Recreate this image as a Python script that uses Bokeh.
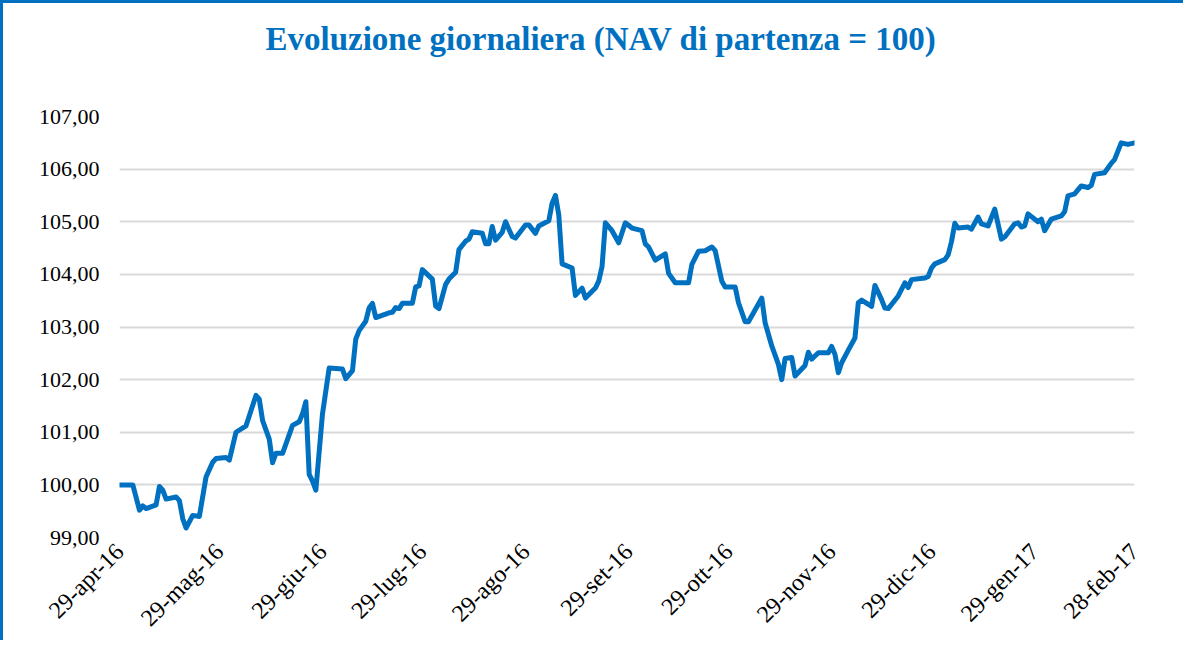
import pandas as pd
from bokeh.plotting import figure
from bokeh.models import Range1d, FixedTicker, CustomJSTickFormatter, Title
from bokeh.embed import file_html
from bokeh.resources import INLINE

title_text = "Evoluzione giornaliera (NAV di partenza = 100)"

dates = [
    "2016-04-29", "2016-05-03", "2016-05-05", "2016-05-06", "2016-05-07", "2016-05-10", "2016-05-11",
    "2016-05-12", "2016-05-13", "2016-05-16", "2016-05-17", "2016-05-18", "2016-05-19", "2016-05-21",
    "2016-05-23", "2016-05-25", "2016-05-27", "2016-05-28", "2016-05-31",
    "2016-06-01", "2016-06-03", "2016-06-06", "2016-06-09", "2016-06-10", "2016-06-11", "2016-06-13",
    "2016-06-14", "2016-06-15", "2016-06-17", "2016-06-20", "2016-06-22", "2016-06-23", "2016-06-24",
    "2016-06-25", "2016-06-26", "2016-06-27", "2016-06-29",
    "2016-07-01", "2016-07-05", "2016-07-06", "2016-07-08", "2016-07-09", "2016-07-10", "2016-07-12",
    "2016-07-13", "2016-07-14", "2016-07-15", "2016-07-19", "2016-07-20", "2016-07-21", "2016-07-22",
    "2016-07-23", "2016-07-26", "2016-07-27", "2016-07-28", "2016-07-29",
    "2016-08-01", "2016-08-02", "2016-08-03", "2016-08-05", "2016-08-06", "2016-08-08", "2016-08-09",
    "2016-08-11", "2016-08-12", "2016-08-13", "2016-08-16", "2016-08-17", "2016-08-18", "2016-08-19",
    "2016-08-20", "2016-08-22", "2016-08-23", "2016-08-25", "2016-08-26", "2016-08-29", "2016-08-30",
    "2016-09-01", "2016-09-02", "2016-09-05", "2016-09-06", "2016-09-07", "2016-09-08", "2016-09-09",
    "2016-09-12", "2016-09-13", "2016-09-15", "2016-09-16", "2016-09-19", "2016-09-20", "2016-09-21",
    "2016-09-22", "2016-09-24", "2016-09-26", "2016-09-28", "2016-09-30",
    "2016-10-03", "2016-10-04", "2016-10-05", "2016-10-07", "2016-10-10", "2016-10-11", "2016-10-13",
    "2016-10-17", "2016-10-18", "2016-10-20", "2016-10-22", "2016-10-24", "2016-10-25", "2016-10-27",
    "2016-10-28", "2016-10-31",
    "2016-11-01", "2016-11-03", "2016-11-04", "2016-11-08", "2016-11-09", "2016-11-11", "2016-11-13",
    "2016-11-14", "2016-11-15", "2016-11-17", "2016-11-18", "2016-11-21", "2016-11-22", "2016-11-23",
    "2016-11-25", "2016-11-28", "2016-11-29", "2016-11-30",
    "2016-12-01", "2016-12-02", "2016-12-04", "2016-12-06", "2016-12-07", "2016-12-08", "2016-12-11",
    "2016-12-12", "2016-12-14", "2016-12-15", "2016-12-16", "2016-12-19", "2016-12-21", "2016-12-22",
    "2016-12-23", "2016-12-27", "2016-12-28", "2016-12-29", "2016-12-30",
    "2017-01-02", "2017-01-03", "2017-01-04", "2017-01-05", "2017-01-06", "2017-01-09", "2017-01-10",
    "2017-01-12", "2017-01-13", "2017-01-15", "2017-01-17", "2017-01-19", "2017-01-20", "2017-01-23",
    "2017-01-24", "2017-01-25", "2017-01-26", "2017-01-27", "2017-01-30", "2017-01-31",
    "2017-02-01", "2017-02-03", "2017-02-06", "2017-02-07", "2017-02-08", "2017-02-10", "2017-02-12",
    "2017-02-14", "2017-02-15", "2017-02-16", "2017-02-19", "2017-02-21", "2017-02-22", "2017-02-24",
    "2017-02-26", "2017-02-28",
]

nav = [
    100.0, 100.0, 99.52, 99.6, 99.55, 99.62, 99.97, 99.9, 99.73, 99.77, 99.7, 99.36, 99.18, 99.42,
    99.4, 100.15, 100.43, 100.5, 100.52,
    100.47, 101.0, 101.12, 101.7, 101.63, 101.22, 100.87, 100.42, 100.6, 100.6, 101.13, 101.2, 101.35,
    101.58, 100.2, 100.07, 99.9, 101.35,
    102.22, 102.2, 102.02, 102.17, 102.77, 102.93, 103.11, 103.36, 103.45, 103.18, 103.27, 103.28,
    103.37, 103.35, 103.45, 103.45, 103.76, 103.78, 104.09,
    103.91, 103.4, 103.35, 103.81, 103.91, 104.04, 104.47, 104.63, 104.67, 104.81, 104.78, 104.58,
    104.58, 104.91, 104.65, 104.8, 105.0, 104.72, 104.69, 104.94, 104.94,
    104.78, 104.92, 105.02, 105.35, 105.5, 105.13, 104.2, 104.12, 103.6, 103.74, 103.55, 103.74,
    103.87, 104.15, 104.98, 104.83, 104.6, 104.98, 104.88,
    104.83, 104.58, 104.52, 104.27, 104.39, 104.02, 103.84, 103.84, 104.19, 104.44, 104.45, 104.52,
    104.45, 103.87, 103.76, 103.76,
    103.46, 103.1, 103.1, 103.55, 103.08, 102.64, 102.29, 102.0, 102.4, 102.42, 102.07, 102.27,
    102.52, 102.39, 102.51, 102.51, 102.63, 102.48,
    102.13, 102.32, 102.56, 102.79, 103.46, 103.51, 103.39, 103.79, 103.52, 103.36, 103.35, 103.59,
    103.84, 103.75, 103.9, 103.93, 103.96, 104.12, 104.2,
    104.28, 104.37, 104.62, 104.97, 104.88, 104.9, 104.86, 105.09, 104.96, 104.92, 105.24, 104.67,
    104.71, 104.96, 104.98, 104.9, 104.92, 105.15, 105.0, 105.05,
    104.83, 105.05, 105.11, 105.19, 105.49, 105.53, 105.68, 105.65, 105.69, 105.9, 105.93, 106.11,
    106.18, 106.5, 106.47, 106.5,
]

tick_dates = ["2016-04-29", "2016-05-29", "2016-06-29", "2016-07-29", "2016-08-29", "2016-09-29",
              "2016-10-29", "2016-11-29", "2016-12-29", "2017-01-29", "2017-02-28"]
tick_labels = ["29-apr-16", "29-mag-16", "29-giu-16", "29-lug-16", "29-ago-16", "29-set-16",
               "29-ott-16", "29-nov-16", "29-dic-16", "29-gen-17", "28-feb-17"]
y_ticks = [99, 100, 101, 102, 103, 104, 105, 106, 107]

BLUE = "#0070C0"
x = pd.to_datetime(dates)
tick_ms = [float(pd.Timestamp(d).value // 10**6) for d in tick_dates]

p = figure(width=1183, height=640, x_axis_type="datetime", output_backend="svg",
           toolbar_location=None, title=None,
           x_range=Range1d(pd.Timestamp(tick_dates[0]), pd.Timestamp(tick_dates[-1])),
           y_range=Range1d(99, 107),
           min_border_left=116, min_border_right=52, min_border_top=113, min_border_bottom=104)
p.styles = {"border-top": "3px solid " + BLUE, "border-left": "3px solid " + BLUE}

p.line(x, nav, line_color=BLUE, line_width=5, line_join="round", line_cap="round")

# blank spacer title (closest to the frame), then the real title above it
p.add_layout(Title(text=" ", text_font_size="20px", standoff=36), "above")
p.add_layout(Title(text=title_text, text_font="Liberation Serif", text_font_style="bold",
                   text_font_size="33px", text_color=BLUE, align="left", offset=146,
                   standoff=0), "above")

p.outline_line_color = None
p.background_fill_color = "white"
p.border_fill_color = "white"

p.xgrid.grid_line_color = None
p.ygrid.grid_line_color = "#D9D9D9"
p.ygrid.grid_line_width = 2

p.yaxis.ticker = FixedTicker(ticks=y_ticks)
p.yaxis.formatter = CustomJSTickFormatter(code="return tick.toFixed(2).replace('.', ',');")
p.xaxis.ticker = FixedTicker(ticks=tick_ms)
p.xaxis.formatter = CustomJSTickFormatter(args=dict(tvals=tick_ms, tlabels=tick_labels), code="""
const i = tvals.indexOf(tick);
return i >= 0 ? tlabels[i] : '';
""")
p.xaxis.major_label_orientation = 0.785398

for ax in (p.xaxis[0], p.yaxis[0]):
    ax.axis_line_color = None
    ax.major_tick_line_color = None
    ax.minor_tick_line_color = None
    ax.major_label_text_font = "Liberation Serif"
    ax.major_label_text_color = "#000000"
p.yaxis.major_label_text_font_size = "22px"
p.xaxis.major_label_text_font_size = "24px"
p.yaxis.major_label_standoff = 14
p.xaxis.major_label_standoff = 4

open("out.html", "w").write(file_html(p, INLINE))
